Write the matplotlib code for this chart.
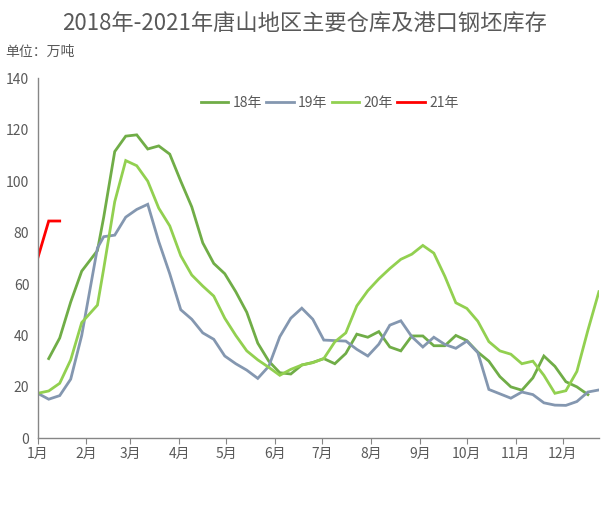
import numpy as np
import matplotlib
matplotlib.use("Agg")
import matplotlib.pyplot as plt

plt.rcParams['font.family'] = ['Noto Sans CJK SC', 'DejaVu Sans']

# 周数据（日期按一年中的第几天表示）
days = [0, 7, 14, 21, 28, 38] + list(range(42, 358, 7))

# 各年库存（万吨）
y18 = [np.nan,
       31, 39, 53, 65, 73, 86, 111.5, 117.5, 118, 112.5,
       113.7, 110.5, 100, 90, 76, 68, 64, 57, 49, 37,
       30, 25.5, 25, 28.5, 29.5, 31, 29, 33, 40.5, 39.3,
       41.5, 35.5, 34, 39.8, 39.8, 36, 36, 40, 38, 33.5,
       30, 24, 20, 18.7, 23.5, 32, 28, 22, 20, 17,
       np.nan]
y19 = [17.5, 15.2, 16.6, 23, 40, 74, 78.4, 79, 86, 89,
       91, 76.5, 64, 50, 46.3, 41, 38.5, 32, 29, 26.5,
       23.3, 28, 39.5, 46.7, 50.6, 46.3, 38.2, 38, 37.8, 34.6,
       32, 36.6, 44, 45.7, 39.5, 35.5, 39.3, 36.5, 35, 37.8,
       33.3, 19, 17.3, 15.6, 18, 17, 13.8, 12.9, 12.8, 14.3,
       18, 18.8]
y20 = [17.5, 18.4, 21.4, 30.5, 45, 51.8, 66, 92, 108, 106,
       100, 89.5, 82.6, 71, 63.5, 59.2, 55.3, 46.7, 40, 34,
       30.5, 27.6, 24.5, 26.8, 28.5, 29.4, 31, 37.5, 41, 51.5,
       57.4, 62, 66, 69.6, 71.6, 75, 72, 63, 52.7, 50.5,
       45.5, 37.6, 34, 32.7, 29, 30, 24.5, 17.5, 18.5, 26,
       42, 57]
y21 = [70, 84.5, 84.5]

series = ['18年', '19年', '20年', '21年']
colors = ['#70AD47', '#8497B0', '#92D050', '#FF0000']

month_days = [0, 31, 59, 90, 120, 151, 181, 212, 243, 273, 304, 334]
month_labels = ['%d月' % m for m in range(1, 13)]

fig = plt.figure(figsize=(6.1, 5.08), dpi=100)
ax = fig.add_axes([0.0618, 0.1372, 0.920, 0.7087])

for name, vals, c in zip(series, [y18, y19, y20, y21], colors):
    ax.plot(days[:len(vals)], vals, color=c, lw=2.0, label=name,
            solid_joinstyle='miter')

ax.set_xlim(0, 357)
ax.set_ylim(0, 140)
ax.set_yticks(range(0, 141, 20))
ax.set_xticks(month_days)
ax.set_xticklabels(month_labels)

gray = '#595959'
for s in ['top', 'right']:
    ax.spines[s].set_visible(False)
for s in ['left', 'bottom']:
    ax.spines[s].set_color('#868686')
    ax.spines[s].set_linewidth(1.0)
ax.tick_params(axis='y', length=0, labelsize=10, labelcolor=gray, pad=6)
ax.tick_params(axis='x', length=4, color='#868686', labelsize=10,
               labelcolor=gray, pad=2)

fig.text(0.5, 0.955, '2018年-2021年唐山地区主要仓库及港口钢坯库存',
         ha='center', va='center', fontsize=16, color=gray)
fig.text(0.008, 0.897, '单位：万吨', ha='left', va='center',
         fontsize=10, color=gray)

ax.legend(loc='upper center', bbox_to_anchor=(0.52, 0.985), ncol=4,
          frameon=False, fontsize=10, labelcolor=gray, handlelength=2.0,
          handletextpad=0.3, columnspacing=0.3)

fig.savefig('out.png', dpi=100)
